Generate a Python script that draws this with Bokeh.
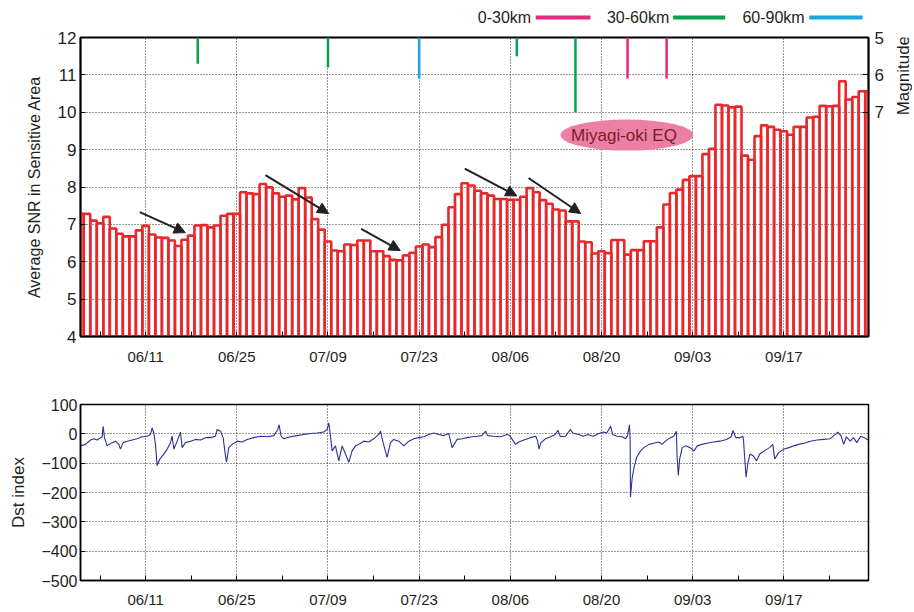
import numpy as np
from bokeh.plotting import figure
from bokeh.models import Range1d, LinearAxis, FixedTicker, Arrow, NormalHead
from bokeh.layouts import column, row
from bokeh.core.properties import value
from bokeh.embed import file_html
from bokeh.resources import INLINE

FONT = "Liberation Sans"
TXT = "#231f20"

# ---------------- data ----------------
# daily average SNR, day 0 = 06/01 ... day 121 = 09/30
snr = [7.28, 7.28, 7.10, 7.03, 7.20, 6.89, 6.75, 6.68, 6.68, 6.84,
       6.96, 6.73, 6.65, 6.64, 6.57, 6.42, 6.59, 6.70, 6.97, 6.98,
       6.92, 6.97, 7.23, 7.28, 7.28, 7.86, 7.83, 7.81, 8.08, 7.99,
       7.83, 7.74, 7.77, 7.67, 7.97, 7.72, 7.14, 6.86, 6.54, 6.30,
       6.28, 6.46, 6.45, 6.57, 6.57, 6.28, 6.28, 6.15, 6.05, 6.04,
       6.17, 6.24, 6.41, 6.46, 6.39, 6.66, 6.99, 7.46, 7.81, 8.10,
       8.04, 7.90, 7.83, 7.77, 7.68, 7.68, 7.66, 7.66, 7.74, 7.97,
       7.86, 7.65, 7.55, 7.40, 7.37, 7.08, 7.08, 6.54, 6.52, 6.22,
       6.28, 6.23, 6.58, 6.58, 6.19, 6.31, 6.31, 6.55, 6.55, 6.92,
       7.53, 7.84, 7.93, 8.19, 8.29, 8.29, 8.88, 9.02, 10.20, 10.18,
       10.13, 10.15, 8.84, 8.73, 9.36, 9.65, 9.61, 9.53, 9.49, 9.40,
       9.61, 9.61, 9.86, 9.88, 10.17, 10.16, 10.17, 10.83, 10.34, 10.41,
       10.56, 10.56]
days = list(range(len(snr)))

tick_days = [10, 24, 38, 52, 66, 80, 94, 108]
tick_labels = ["06/11", "06/25", "07/09", "07/23", "08/06", "08/20", "09/03", "09/17"]
minor_days = [3, 17, 31, 45, 59, 73, 87, 101, 115]

# earthquakes: day, magnitude, depth class
eq_day = [18, 38, 52, 67, 76, 84, 90]
eq_mag = [5.7, 5.8, 6.1, 5.5, 7.0, 6.1, 6.1]
eq_depth = ["30-60km", "30-60km", "60-90km", "30-60km", "30-60km", "0-30km", "0-30km"]
depth_names = ["0-30km", "30-60km", "60-90km"]
depth_colors = ["#e6297f", "#0aa14b", "#1aa7de"]

# annotation arrows (day, SNR)
arrow_x0 = [9.1, 28.4, 43.1, 59.0, 68.8]
arrow_y0 = [7.33, 8.32, 6.88, 8.49, 8.24]
arrow_x1 = [16.1, 38.1, 49.1, 67.0, 76.8]
arrow_y1 = [6.78, 7.29, 6.30, 7.76, 7.29]

# Dst index (day, nT)
dst_day = [0, 0.77, 1.54, 2.05, 2.56, 3.07, 3.33, 3.48, 3.68, 4.09, 4.35, 4.86, 5.37, 5.89, 6.14,
           6.55, 7.16, 7.93, 8.70, 9.47, 10.24, 10.75, 11.0, 11.26, 11.51, 11.77, 12.18, 12.79,
           13.31, 13.82, 14.07, 14.33, 14.84, 15.35, 15.61, 16.12, 16.89, 17.66, 18.42, 19.19,
           19.96, 20.73, 20.98, 21.5, 21.9, 22.26, 22.42, 22.77, 23.29, 24.05, 24.82, 25.59,
           26.61, 27.64, 28.66, 29.68, 30.3, 30.5, 30.8, 31.22, 32.24, 33.26, 34.29, 35.31,
           36.34, 37.36, 37.87, 38.13, 38.38, 38.64, 39.15, 39.66, 40.18, 40.69, 41.2, 41.71,
           42.22, 42.73, 43.5, 44.27, 45.03, 45.8, 46.06, 46.47, 47.08, 47.6, 48.1, 48.87,
           49.64, 50.41, 51.18, 51.95, 52.71, 53.48, 54.25, 55.02, 55.78, 56.55, 57.06, 57.83,
           58.6, 59.37, 60.1, 60.9, 61.6, 62.2, 62.5, 63.4, 64.5, 65.5, 65.9, 66.3, 66.8, 67.3,
           68.1, 69.1, 69.9, 70.2, 70.4, 70.7, 71.4, 72.2, 72.9, 73.3, 73.7, 74.5, 75.2, 75.6,
           76.5, 77.2, 77.9, 78.7, 79.6, 80.3, 80.8, 81.4, 81.7, 82.4, 83.2, 83.7, 84.0, 84.3,
           84.4, 84.45, 84.7, 85.0, 85.4, 86.0, 86.5, 87.3, 88.0, 88.8, 89.3, 89.8, 90.6, 91.1,
           91.5, 91.6, 91.8, 92.0, 92.4, 92.9, 93.6, 94.2, 94.7, 95.4, 96.2, 97.2, 98.2, 99.2,
           99.9, 100.2, 100.6, 101.2, 101.7, 101.8, 102.0, 102.2, 102.5, 102.8, 103.3, 103.8,
           104.3, 105.0, 105.8, 106.3, 106.6, 107.2, 108.0, 108.8, 109.5, 110.3, 111.1, 112.1,
           113.1, 114.1, 115.1, 115.9, 116.3, 116.8, 117.2, 117.6, 118.2, 118.7, 119.2, 119.8,
           120.4, 120.9]
dst_val = [-41, -36, -21, -17, -21, -13, -10, 26, -13, -41, -36, -30, -25, -36, -52,
           -30, -25, -21, -17, -10, -8, -2, 20, 3, -36, -108, -86, -69,
           -52, -30, -8, -52, -25, 6, -47, -30, -25, -19, -21, -13,
           -13, -8, 15, 9, -13, -75, -97, -47, -36, -25, -28, -19,
           -13, -8, -10, -6, 15, 31, -8, -17, -10, -6, -2, 1,
           3, 6, 15, 37, -8, -58, -41, -92, -41, -69, -97, -58,
           -41, -36, -25, -28, -17, -2, 9, -30, -80, -30, -19, -25,
           -41, -25, -17, -13, -10, -2, 3, -2, -6, 1, -47, -19,
           -17, -13, -10, -8, -6, 9, -6, -8, -10, -2, -6, -19, -36, -28,
           -21, -13, -8, -25, -52, -30, -17, -10, -2, 12, -10, -8, 15, 3,
           -2, -8, -2, -8, 1, 6, 3, 26, -2, -8, -10, -17, -6, 31,
           -19, -215, -153, -114, -80, -58, -47, -36, -32, -28, -36, -25, -13, -8,
           9, -75, -142, -86, -47, -41, -47, -58, -41, -36, -32, -28, -25, -19,
           -10, 12, -13, -13, -8, -19, -86, -148, -97, -69, -75, -92,
           -69, -58, -47, -36, -86, -64, -52, -47, -41, -36, -32, -25,
           -21, -19, -17, -2, 6, -8, -36, -10, -25, -13, -30, -8,
           -13, -21]

dst_ticks = [100, 0, -100, -200, -300, -400, -500]

xr = Range1d(0, 121)
W = 912
LB, RB = 80, 44


def style_axes(fig, xsize):
    for ax in list(fig.axis):
        ax.axis_line_color = "black"
        ax.axis_line_width = 1.5
        ax.major_tick_in = 5
        ax.major_tick_out = 0
        ax.minor_tick_in = 5
        ax.minor_tick_out = 0
        ax.major_tick_line_color = "black"
        ax.minor_tick_line_color = "black"
        ax.major_label_text_font = FONT
        ax.major_label_text_color = TXT
        ax.axis_label_text_font = FONT
        ax.axis_label_text_color = TXT
        ax.axis_label_text_font_style = "normal"
    fig.xaxis.major_label_text_font_size = xsize
    fig.xaxis.major_label_standoff = 11


# ---------------- header (legend) ----------------
p0 = figure(width=W, height=27, x_range=xr, y_range=Range1d(0, 1),
            output_backend="svg", toolbar_location=None,
            x_axis_location=None, y_axis_location=None,
            min_border_left=LB, min_border_right=RB, min_border_top=0, min_border_bottom=0)
p0.outline_line_color = None
p0.grid.visible = False
leg_text_x = [69.2, 90.4, 111.2]
leg_line_x0 = [69.9, 91.0, 111.9]
leg_line_x1 = [78.3, 99.0, 120.1]
p0.text(x=leg_text_x, y=[0.37] * 3, text=depth_names, text_font=value(FONT),
        text_font_size="16px", text_color=TXT, text_align="right", text_baseline="middle")
p0.segment(x0=leg_line_x0, y0=[0.37] * 3, x1=leg_line_x1, y1=[0.37] * 3,
           line_color=depth_colors, line_width=4)

# ---------------- top panel ----------------
RB1 = 26
p1 = figure(width=LB + 788 + RB1, height=353, x_range=xr, y_range=Range1d(4, 12),
            output_backend="svg", toolbar_location=None,
            min_border_left=LB, min_border_right=RB1, min_border_top=10, min_border_bottom=44)
p1.outline_line_color = "black"
p1.outline_line_width = 2

p1.xgrid.ticker = FixedTicker(ticks=tick_days)
p1.ygrid.ticker = FixedTicker(ticks=list(range(5, 12)))
for g in (p1.xgrid, p1.ygrid):
    g.grid_line_color = "#333333"
    g.grid_line_dash = "1 2"
    g.grid_line_width = 1

p1.vbar(x=days, top=snr, bottom=4, width=1, fill_color=None,
        line_color="#e8282b", line_width=2.6)

p1.extra_y_ranges = {"mag": Range1d(13, 5)}
for name, col in zip(depth_names, depth_colors):
    xs = [d for d, k in zip(eq_day, eq_depth) if k == name]
    ms = [m for m, k in zip(eq_mag, eq_depth) if k == name]
    p1.segment(x0=xs, y0=[5] * len(xs), x1=xs, y1=ms, y_range_name="mag",
               line_color=col, line_width=2.5)

raxis = LinearAxis(y_range_name="mag", ticker=FixedTicker(ticks=[5, 6, 7]))
p1.add_layout(raxis, "right")

p1.xaxis.ticker = FixedTicker(ticks=tick_days, minor_ticks=minor_days)
p1.xaxis.major_label_overrides = {d: l for d, l in zip(tick_days, tick_labels)}
style_axes(p1, "15px")
p1.yaxis[0].ticker = FixedTicker(ticks=list(range(4, 13)))
p1.yaxis[0].minor_tick_line_color = None
p1.yaxis[0].major_label_text_font_size = "17px"
p1.yaxis[0].major_label_standoff = 4
p1.yaxis[0].axis_label = "Average SNR in Sensitive Area"
p1.yaxis[0].axis_label_text_font_size = "16px"
p1.yaxis[0].axis_label_standoff = 12
raxis.minor_tick_line_color = None
raxis.major_label_text_font_size = "17px"
raxis.major_label_standoff = 6
raxis.major_tick_in = 6

for x0, y0, x1, y1 in zip(arrow_x0, arrow_y0, arrow_x1, arrow_y1):
    p1.add_layout(Arrow(x_start=x0, y_start=y0, x_end=x1, y_end=y1,
                        line_color="#231f20", line_width=2,
                        end=NormalHead(size=11, fill_color="#231f20", line_color="#231f20")))

p1.ellipse(x=[83.9], y=[9.39], width=20.4, height=0.83,
           fill_color="#ec80a4", line_color=None)
p1.text(x=[83.45], y=[9.39], text=["Miyagi-oki EQ"], text_font=value(FONT),
        text_font_size="17px", text_color="#7b1c2c", text_align="center",
        text_baseline="middle")

# narrow side strip holding the "Magnitude" title
pm = figure(width=W - (LB + 788 + RB1), height=353, x_range=Range1d(0, 1), y_range=Range1d(0, 353),
            output_backend="svg", toolbar_location=None,
            x_axis_location=None, y_axis_location=None,
            min_border_left=0, min_border_right=0, min_border_top=0, min_border_bottom=0)
pm.outline_line_color = None
pm.grid.visible = False
pm.text(x=[0.5], y=[308], text=["Magnitude"], angle=np.pi / 2, text_font=value(FONT),
        text_font_size="17px", text_color=TXT, text_align="center", text_baseline="middle")

# ---------------- bottom panel ----------------
p2 = figure(width=W, height=230, x_range=xr, y_range=Range1d(-500, 100),
            output_backend="svg", toolbar_location=None,
            min_border_left=LB, min_border_right=RB, min_border_top=24, min_border_bottom=27)
p2.outline_line_color = "black"
p2.outline_line_width = 1.5
p2.xgrid.ticker = FixedTicker(ticks=tick_days)
p2.ygrid.ticker = FixedTicker(ticks=[0, -100, -200, -300, -400])
for g in (p2.xgrid, p2.ygrid):
    g.grid_line_color = "#333333"
    g.grid_line_dash = "1 2"
    g.grid_line_width = 1
p2.line(dst_day, dst_val, line_color="#2e3192", line_width=1.1)

p2.xaxis.ticker = FixedTicker(ticks=tick_days, minor_ticks=minor_days)
p2.xaxis.major_label_overrides = {d: l for d, l in zip(tick_days, tick_labels)}
p2.yaxis.ticker = FixedTicker(ticks=dst_ticks)
style_axes(p2, "15px")
p2.xaxis.major_label_standoff = 10
p2.yaxis.minor_tick_line_color = None
p2.yaxis.axis_label = "Dst index"
p2.yaxis.major_label_text_font_size = "16px"
p2.yaxis.major_label_standoff = 3
p2.yaxis.axis_label_text_font_size = "17px"
p2.yaxis.axis_label_standoff = 10

layout = column(p0, row(p1, pm), p2)
open("out.html", "w").write(file_html(layout, INLINE))
